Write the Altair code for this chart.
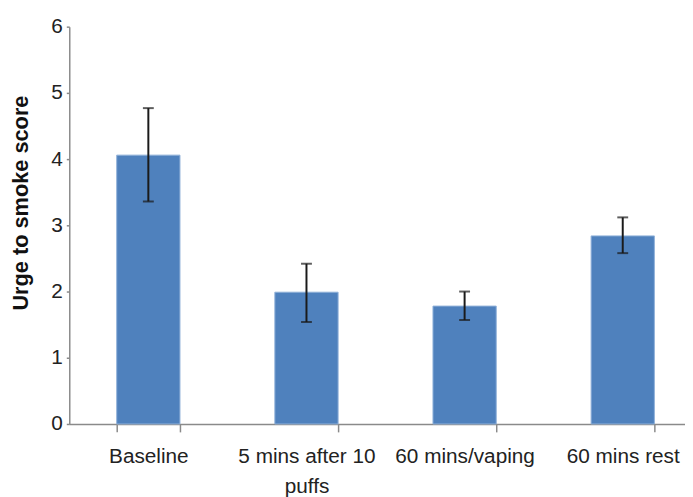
import altair as alt
import pandas as pd

categories = ["Baseline", "5 mins after 10 puffs", "60 mins/vaping", "60 mins rest"]
means = [4.06, 1.99, 1.78, 2.84]
lower = [3.36, 1.54, 1.57, 2.58]
upper = [4.77, 2.42, 2.00, 3.12]
y_ticks = [0, 1, 2, 3, 4, 5, 6]

df = pd.DataFrame({"cat": categories, "mean": means, "lo": lower, "hi": upper})

FONT = "Liberation Sans"
GREY = "#8a8a8a"

x_enc = alt.X(
    "cat:N",
    sort=categories,
    scale=alt.Scale(range=[0, 640], paddingInner=0.6, paddingOuter=0.3),
    axis=alt.Axis(
        title=None,
        labelAngle=0,
        labelFontSize=21,
        labelFont=FONT,
        labelColor="#222222",
        labelPadding=14,
        labelLimit=0,
        labelLineHeight=30,
        labelExpr="datum.value == '5 mins after 10 puffs' ? ['5 mins after 10', 'puffs'] : datum.label",
        tickBand="extent",
        tickSize=8,
        tickColor=GREY,
        domainColor=GREY,
        domainWidth=1.5,
        tickWidth=1.5,
    ),
)

y_scale = alt.Scale(domain=[0, 6], nice=False, zero=True)

bars = alt.Chart(df).mark_bar(color="#4F81BD", stroke="#8FB0D9", strokeWidth=1).encode(
    x=x_enc,
    y=alt.Y(
        "mean:Q",
        scale=y_scale,
        axis=alt.Axis(
            title="Urge to smoke score",
            titleFont=FONT,
            titleFontSize=22,
            titleFontWeight="bold",
            titleColor="#111111",
            titleX=-49,
            titleY=178,
            titleAngle=270,
            titleAlign="center",
            titleBaseline="middle",
            values=y_ticks,
            format="d",
            grid=False,
            labelFontSize=21,
            labelFont=FONT,
            labelColor="#222222",
            labelPadding=4,
            tickSize=3,
            tickColor=GREY,
            domainColor=GREY,
            domainWidth=1.5,
            tickWidth=1.5,
        ),
    ),
)

rules = alt.Chart(df).mark_rule(color="#1a1a1a", strokeWidth=2).encode(
    x=alt.X("cat:N", sort=categories),
    y=alt.Y("lo:Q", scale=y_scale),
    y2="hi:Q",
)

caps_hi = alt.Chart(df).mark_tick(color="#1a1a1a", thickness=2, size=11).encode(
    x=alt.X("cat:N", sort=categories),
    y=alt.Y("hi:Q", scale=y_scale),
)
caps_lo = alt.Chart(df).mark_tick(color="#1a1a1a", thickness=2, size=11).encode(
    x=alt.X("cat:N", sort=categories),
    y=alt.Y("lo:Q", scale=y_scale),
)

chart = (
    alt.layer(bars, rules, caps_hi, caps_lo)
    .properties(
        width=623,
        height=402,
        autosize=alt.AutoSizeParams(type="none"),
        padding={"left": 62, "top": 16, "right": 0, "bottom": 71},
        background="white",
    )
    .configure_view(stroke=None)
)

chart.save("out.html", embed_options={"renderer": "svg", "actions": False})
